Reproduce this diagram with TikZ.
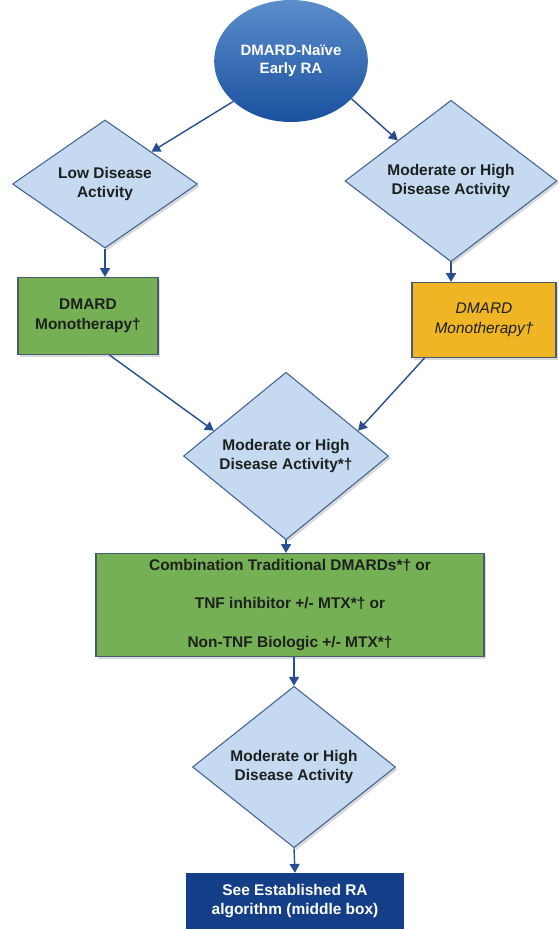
\documentclass[tikz,border=0pt]{standalone}
\usepackage{fontspec}
\setmainfont{Liberation Sans}
\usetikzlibrary{shapes.geometric,arrows.meta,calc,shadows}
\definecolor{decblue}{RGB}{197,217,241}
\definecolor{decedge}{RGB}{68,98,145}
\definecolor{boxedge}{RGB}{72,92,110}
\definecolor{arrowblue}{RGB}{38,78,145}
\definecolor{rxgreen}{RGB}{118,176,84}
\definecolor{rxorange}{RGB}{239,181,36}
\definecolor{navyend}{RGB}{20,62,135}
\definecolor{startlight}{RGB}{92,142,204}
\definecolor{startdark}{RGB}{26,80,158}
\definecolor{inkdark}{RGB}{28,32,30}

\begin{document}
\begin{tikzpicture}[x=0.03cm,y=-0.03cm,
    every node/.style={align=center,text=inkdark,font=\bfseries\fontsize{13.2}{17}\selectfont},
    soft/.style={drop shadow={shadow xshift=2pt,shadow yshift=-2pt,opacity=0.3}},
    decision/.style={diamond,draw=decedge,fill=decblue,line width=0.9pt,inner sep=0pt,soft},
    greenbox/.style={rectangle,draw=boxedge,fill=rxgreen,line width=0.9pt,soft},
    orangebox/.style={rectangle,draw=boxedge,fill=rxorange,line width=0.9pt,soft,
      font=\itshape\fontsize{13.2}{17}\selectfont},
    startnode/.style={ellipse,top color=startlight,bottom color=startdark,draw=none,
      minimum width=4.56cm,minimum height=3.66cm,text=white,
      font=\bfseries\fontsize{12.8}{15}\selectfont},
    endbox/.style={rectangle,fill=navyend,draw=none,text=white},
    flow/.style={->,draw=arrowblue,line width=1.2pt},
    >={Triangle[width=8.5pt,length=7.5pt]}]
  % units: 1 = 1px of the 558 x 929 sheet, y downwards
  \useasboundingbox (0,0) rectangle (558,929);
  % start
  \node[startnode] (naive) at (291,61) {DMARD-Naïve\\Early RA};
  % first split on disease activity
  \node[decision,minimum width=5.55cm,minimum height=3.54cm] (lowda) at (105,184) {Low Disease\\Activity};
  \node[decision,minimum width=6.36cm,minimum height=3.54cm] (highda) at (451,181) {Moderate or High\\Disease Activity};
  % monotherapy boxes
  \node[greenbox,minimum width=4.2cm,minimum height=2.31cm] (monoL) at (88,316) {DMARD\\Monotherapy†};
  \node[orangebox,minimum width=4.32cm,minimum height=2.25cm] (monoR) at (484,320) {DMARD\\Monotherapy†};
  % reassessment
  \node[decision,minimum width=6.15cm,minimum height=4.2cm] (highda2) at (286,456) {Moderate or High\\Disease Activity*†};
  \node[greenbox,minimum width=11.64cm,minimum height=3.09cm,
    font=\bfseries\fontsize{13.2}{33}\selectfont] (combo) at (290,605)
    {Combination Traditional DMARDs*† or\\TNF inhibitor +/- MTX*† or\\Non-TNF Biologic +/- MTX*†};
  \node[decision,minimum width=6.09cm,minimum height=3.69cm] (highda3) at (294,767) {Moderate or High\\Disease Activity};
  \node[endbox,minimum width=6.54cm,minimum height=1.68cm] (seeRA) at (295,901) {See Established RA\\algorithm (middle box)};
  % connectors
  \draw[flow] (naive.215) -- (lowda.north east);
  \draw[flow] (naive.-32) -- (highda.north west);
  \draw[flow] (lowda.south) -- (lowda.south |- monoL.north);
  \draw[flow] (highda.south) -- (highda.south |- monoR.north);
  \draw[flow] ($(monoL.south west)+(92,0)$) -- ($(highda2.west)!0.3!(highda2.north)$);
  \draw[flow] ($(monoR.south west)+(13,0)$) -- ($(highda2.east)!0.3!(highda2.north)$);
  \draw[flow] (highda2.south) -- (highda2.south |- combo.north);
  \draw[flow] (combo.south -| highda3.north) -- (highda3.north);
  \draw[flow] (highda3.south) -- (seeRA.north);
\end{tikzpicture}
\end{document}
